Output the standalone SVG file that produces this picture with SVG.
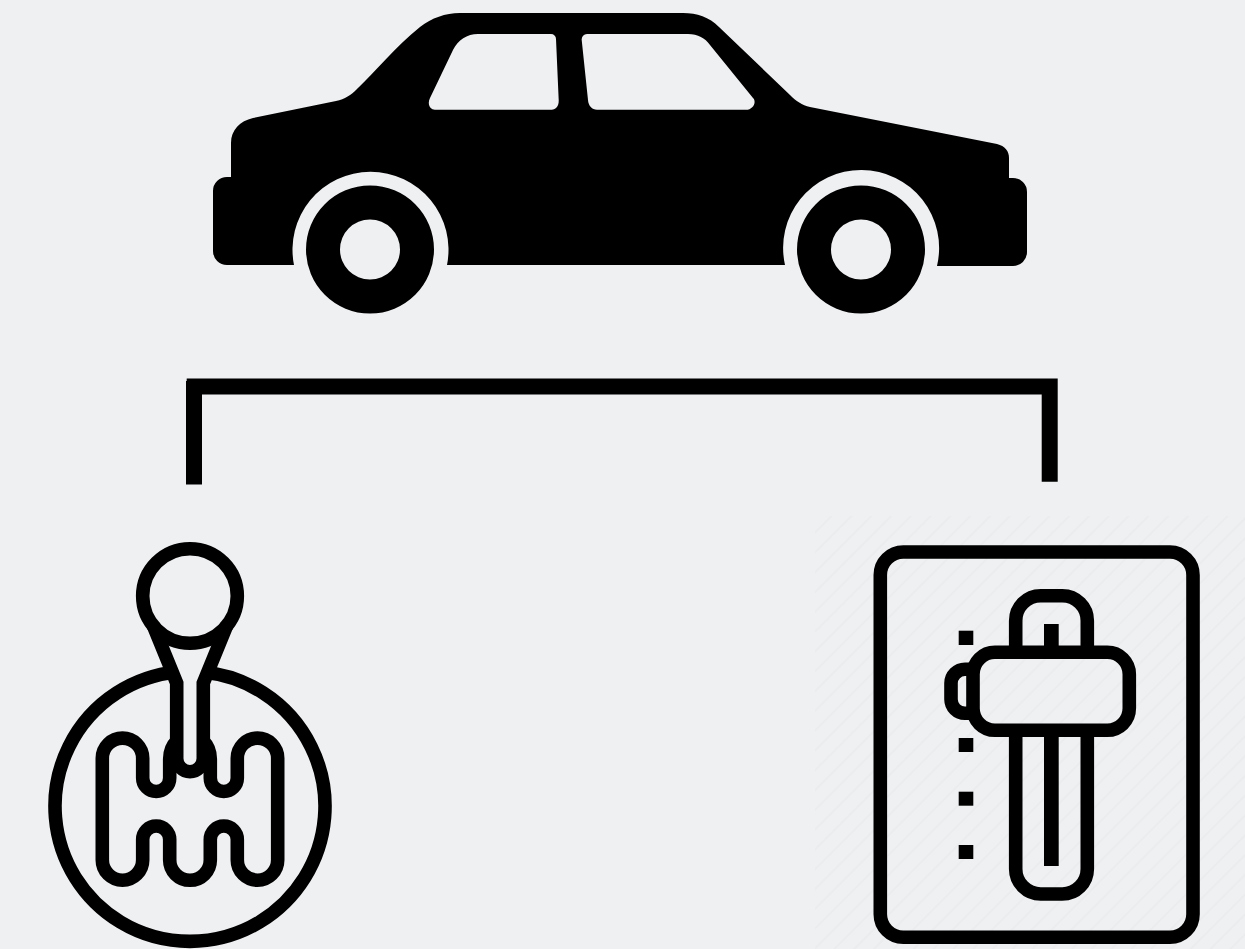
<svg xmlns="http://www.w3.org/2000/svg" width="1245" height="949" viewBox="0 0 1245 949">
<style>
.ink{fill:#000}
.line{fill:none;stroke:#000;stroke-width:13.6}
.bg{fill:#eff0f2}
</style>
<defs>
<pattern id="stripes" width="14" height="14" patternUnits="userSpaceOnUse" patternTransform="rotate(45)">
<rect x="0" y="0" width="2" height="14" fill="#ebecee"/>
</pattern>
</defs>
<rect class="bg" width="1245" height="949"/>
<g id="car">
<path class="ink" fill-rule="evenodd" d="M213,191 A14,14 0 0 1 227,177 H231 V143 C231,130 240,121 253,118 L336,101 C345,99 351,95 357,89 C375,72 395,47 420,27 C432,18 445,13 460,13 H683 C697,13 709,17 719,27 L790,95 C796,101 802,105 810,107 L997,144 C1005,146 1009,151 1009,158 V178 H1013 A14,14 0 0 1 1027,192 V252 A14,14 0 0 1 1013,266 H937 A78,78 0 1 0 785,265 H447 A78,78 0 1 0 294,265 H227 A14,14 0 0 1 213,251 Z
M478,34 H551 A5,5 0 0 1 556,39 L558.7,100 C559,106 556,109.7 551.7,109.7 H435 C430,109.7 427,104 430,98 L453,50 C458,40 467,34 478,34 Z
M587,34 H688 C698,34 705,38 710,45 L753,98 C757,102 753,109.7 746,109.7 H597 C592,109.7 588.5,106 588,100 L581.7,40 A5.5,5.5 0 0 1 587,34 Z"/>
<path class="ink" fill-rule="evenodd" d="M306,249.5 a64,64 0 1 0 128,0 a64,64 0 1 0 -128,0 Z M340,249.5 a30,30 0 1 1 60,0 a30,30 0 1 1 -60,0 Z"/>
<path class="ink" fill-rule="evenodd" d="M797,249.5 a64,64 0 1 0 128,0 a64,64 0 1 0 -128,0 Z M831,249.5 a30,30 0 1 1 60,0 a30,30 0 1 1 -60,0 Z"/>
</g>
<g id="connectors">
<path class="ink" d="M186.7,378.5 H1057.7 V481.7 H1041.7 V394.5 H202 V484.5 H186 V381 H186.7 Z"/>
</g>
<g id="manual-shifter">
<circle class="line" cx="190" cy="596" r="47.3"/>
<path class="line" d="M176.7,672 A135,135 0 1 0 203.3,672"/>
<path class="line" d="M153,625 L176.7,683 V758.4 A13.3,13.3 0 0 0 203.3,758.4 V683 L227,625"/>
<path class="line" d="M176.7,741 Q169.7,748 169.7,759 V778 A13.5,13.5 0 0 1 142.7,778 V758.3 A20.2,20.2 0 0 0 102.3,758.3 V860 A20.2,20.2 0 0 0 142.7,860 V839.5 A13.5,13.5 0 0 1 169.7,839.5 V860 A20.3,20.3 0 0 0 210.3,860 V839.5 A13.5,13.5 0 0 1 237.3,839.5 V860 A20.2,20.2 0 0 0 277.7,860 V758.3 A20.2,20.2 0 0 0 237.3,758.3 V778 A13.5,13.5 0 0 1 210.3,778 V759 Q210.3,748 203.3,741"/>
</g>
<g id="automatic-shifter">
<rect x="815" y="516" width="430" height="433" fill="url(#stripes)"/>
<rect class="line" x="880.3" y="552" width="312.7" height="385.3" rx="23"/>
<path class="line" d="M1015.7,652 V620.7 A25,25 0 0 1 1040.7,595.7 H1062.3 A25,25 0 0 1 1087.3,620.7 V652"/>
<path class="line" d="M1015.7,730 V869 A25,25 0 0 0 1040.7,894 H1062.3 A25,25 0 0 0 1087.3,869 V730"/>
<rect class="ink" x="1044" y="624" width="14.7" height="28"/>
<rect class="ink" x="1044" y="730" width="14.7" height="136"/>
<rect class="line" x="973" y="652.3" width="156.3" height="78" rx="22"/>
<path class="line" d="M975,669.3 H965 A14,14 0 0 0 951,683.3 V699.3 A14,14 0 0 0 965,713.3 H975"/>
<rect class="ink" x="958.7" y="630.7" width="14.6" height="14.3"/>
<rect class="ink" x="958.7" y="738" width="14.6" height="14"/>
<rect class="ink" x="958.7" y="791.7" width="14.6" height="14"/>
<rect class="ink" x="958.7" y="845" width="14.6" height="14"/>
</g>
</svg>
